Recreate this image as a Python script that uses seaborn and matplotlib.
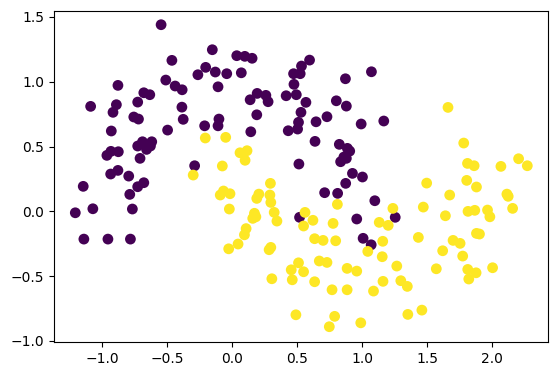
import matplotlib
matplotlib.use("Agg")
import matplotlib.pyplot as plt
import pandas as pd
import seaborn as sns

# class 0 (upper moon)
x0 = [-0.548, -0.154, -0.465, -0.205, -0.265, -0.131, -0.880, -0.512, -0.440, -0.386,
      -0.110, -0.681, -0.635, -0.728, -1.090, -0.892, -0.918, -0.388, 0.034, 0.096,
      0.152, 0.594, -0.043, 0.069, 0.532, 0.471, 0.522, 1.070, 0.870, 0.474,
      0.191, 0.258, 0.137, 0.275, 0.414, 0.492, 0.566, 0.800, 0.877, 0.188,
      0.528, -0.758, -0.722, -0.378, -0.213, -0.103, -0.110, -0.931, -0.498, -0.728,
      -0.691, -0.650, -0.620, -0.660, -0.630, -0.965, -0.934, -0.877, -0.710, -0.290,
      -0.936, -0.880, -0.797, -1.147, -0.681, -0.728, -0.789, -1.073, -1.208, -0.769,
      0.728, 0.509, 0.644, 0.991, 0.142, 0.430, 0.502, 0.636, 0.823, 0.885,
      0.903, 0.877, 0.833, 0.858, 0.512, 0.924, 1.001, 0.872, 0.710, 0.810,
      1.096, 0.517, 0.957, 1.165, 1.253, -1.142, -0.957, -0.784, 1.006, 1.068]
y0 = [1.440, 1.247, 1.165, 1.111, 1.054, 1.075, 0.972, 1.013, 0.967, 0.938,
      0.961, 0.915, 0.900, 0.843, 0.810, 0.823, 0.764, 0.804, 1.201, 1.196,
      1.181, 1.167, 1.062, 1.069, 1.121, 1.062, 1.062, 1.077, 1.023, 0.980,
      0.910, 0.895, 0.861, 0.846, 0.892, 0.900, 0.841, 0.853, 0.812, 0.745,
      0.764, 0.728, 0.712, 0.710, 0.660, 0.712, 0.660, 0.620, 0.627, 0.504,
      0.537, 0.502, 0.537, 0.478, 0.504, 0.432, 0.463, 0.460, 0.409, 0.352,
      0.288, 0.316, 0.272, 0.193, 0.221, 0.190, 0.131, 0.020, -0.011, 0.018,
      0.730, 0.687, 0.691, 0.674, 0.614, 0.622, 0.635, 0.540, 0.517, 0.486,
      0.465, 0.409, 0.383, 0.419, 0.365, 0.293, 0.265, 0.216, 0.144, 0.139,
      0.082, -0.046, -0.059, 0.697, -0.046, -0.214, -0.214, -0.214, -0.208, -0.258]

# class 1 (lower moon)
x1 = [1.659, -0.208, -0.301, -0.051, 0.059, 0.113, 0.098, -0.077, 0.293, -0.068,
      -0.093, -0.018, 0.204, 0.188, 0.289, 0.296, 0.808, -0.023, 0.170, 0.157,
      0.181, 0.322, 0.343, 0.559, 0.620, 0.548, 0.775, 1.130, 1.780, 1.809,
      1.860, 2.202, 2.269, 2.066, 1.495, 1.803, 1.878, 1.672, 2.112, 2.122,
      1.469, 1.235, 1.813, 1.865, 1.963, 1.981, 2.156, 1.639, 1.199, -0.028,
      0.106, 0.093, 1.042, 1.157, 1.153, 1.159, 0.044, 0.283, 0.296, 0.633,
      0.698, 0.795, 0.509, 0.453, 0.548, 0.669, 0.728, 0.883, 0.957, 0.304,
      0.461, 0.633, 0.767, 0.883, 1.086, 0.489, 0.787, 0.746, 0.988, 1.431,
      1.698, 1.752, 1.878, 1.901, 1.618, 1.772, 1.265, 1.569, 1.811, 1.875,
      2.002, 1.819, 1.296, 1.346, 1.350, 1.458]
y1 = [0.802, 0.566, 0.280, 0.571, 0.452, 0.468, 0.394, 0.350, 0.216, 0.157,
      0.126, 0.136, 0.133, 0.100, 0.126, 0.069, 0.054, 0.018, -0.015, -0.054,
      -0.042, -0.008, -0.075, -0.008, -0.069, -0.113, -0.093, -0.085, 0.527, 0.370,
      0.352, 0.406, 0.352, 0.347, 0.218, 0.239, 0.188, 0.126, 0.133, 0.116,
      0.033, 0.023, 0.000, 0.008, 0.010, -0.042, 0.023, -0.034, -0.108, -0.289,
      -0.133, -0.181, -0.309, -0.231, -0.350, -0.540, -0.252, -0.296, -0.278, -0.211,
      -0.224, -0.227, -0.397, -0.451, -0.466, -0.383, -0.394, -0.440, -0.461, -0.520,
      -0.528, -0.543, -0.605, -0.605, -0.615, -0.798, -0.810, -0.890, -0.860, -0.201,
      -0.224, -0.247, -0.170, -0.175, -0.304, -0.345, -0.422, -0.443, -0.448, -0.474,
      -0.435, -0.522, -0.535, -0.579, -0.795, -0.762]

df = pd.DataFrame({
    "x": x0 + x1,
    "y": y0 + y1,
    "label": [0] * len(x0) + [1] * len(x1),
})

fig = plt.figure(figsize=(5.59, 3.76), dpi=100)
ax = fig.add_axes([0.0961, 0.0904, 0.8837, 0.8811])
sns.scatterplot(
    data=df,
    x="x",
    y="y",
    hue="label",
    palette=["#440154", "#fde725"],
    legend=False,
    s=60,
    linewidth=0,
    ax=ax,
)
ax.set_xlim(-1.374, 2.426)
ax.set_ylim(-1.008, 1.548)
ax.set_xlabel("")
ax.set_ylabel("")
fig.savefig("out.png", dpi=100)
